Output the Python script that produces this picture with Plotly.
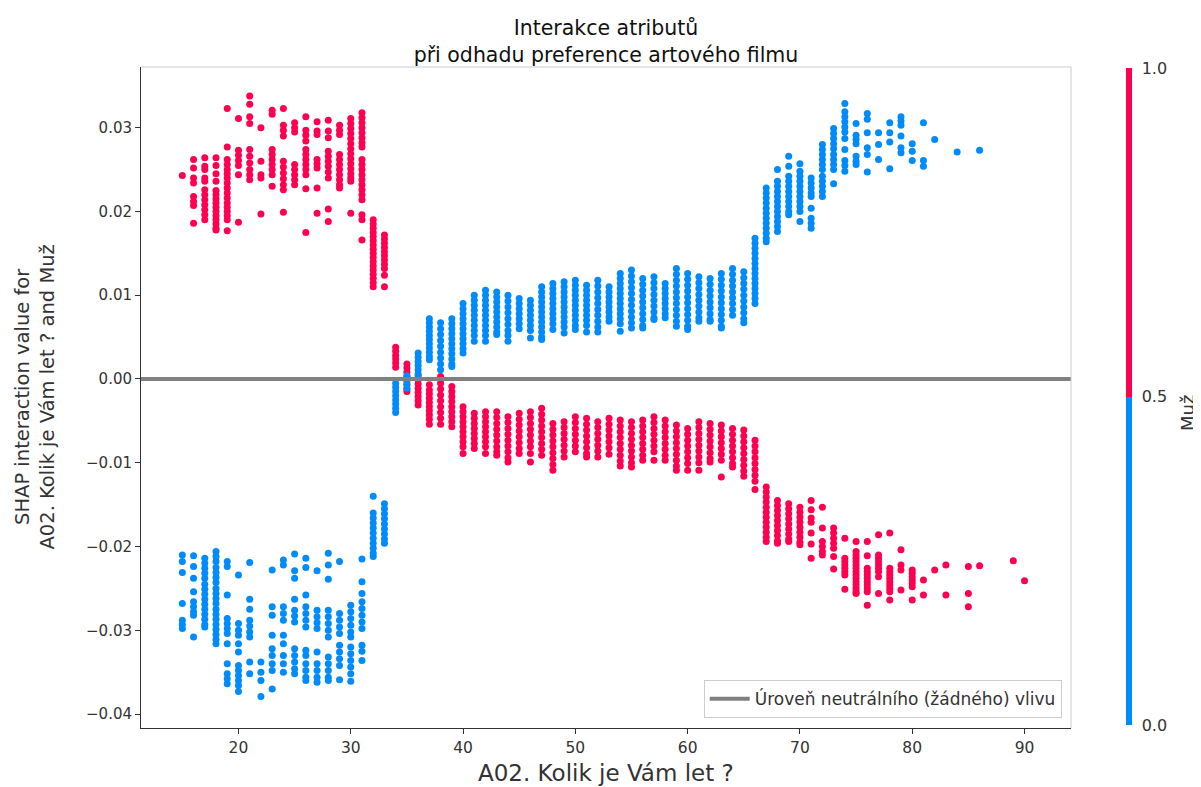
import plotly.graph_objects as go

# ---------------- data ----------------
# SHAP interaction values per age, women (Muž = 0) and men (Muž = 1)
female_young = {
    15: [-0.0210, -0.0218, -0.0231, -0.0268, -0.0288, -0.0293, -0.0298],
    16: [-0.0211, -0.0224, -0.0238, -0.0254, -0.0266, -0.0272, -0.0278, -0.0282, -0.0308],
    17: [-0.0214, -0.0220, -0.0226, -0.0232, -0.0238, -0.0245, -0.0251, -0.0257, -0.0263, -0.0269, -0.0275, -0.0281, -0.0287, -0.0293, -0.0296],
    18: [-0.0206, -0.0212, -0.0218, -0.0225, -0.0231, -0.0237, -0.0243, -0.0250, -0.0256, -0.0262, -0.0268, -0.0275, -0.0281, -0.0287, -0.0293, -0.0299, -0.0305, -0.0311, -0.0316],
    19: [-0.0218, -0.0224, -0.0258, -0.0286, -0.0292, -0.0298, -0.0304, -0.0316, -0.0340, -0.0352, -0.0358, -0.0364],
    20: [-0.0234, -0.0292, -0.0300, -0.0306, -0.0316, -0.0326, -0.0342, -0.0348, -0.0354, -0.0360, -0.0366, -0.0373],
    21: [-0.0219, -0.0263, -0.0275, -0.0288, -0.0295, -0.0302, -0.0308, -0.0338, -0.0352],
    22: [-0.0338, -0.0350, -0.0360, -0.0379],
    23: [-0.0228, -0.0272, -0.0282, -0.0306, -0.0322, -0.0330, -0.0340, -0.0348, -0.0370],
    24: [-0.0216, -0.0222, -0.0272, -0.0280, -0.0288, -0.0306, -0.0316, -0.0330, -0.0340, -0.0350],
    25: [-0.0209, -0.0229, -0.0238, -0.0263, -0.0276, -0.0283, -0.0290, -0.0322, -0.0330, -0.0338, -0.0346, -0.0352],
    26: [-0.0214, -0.0225, -0.0258, -0.0272, -0.0280, -0.0288, -0.0296, -0.0324, -0.0330, -0.0340, -0.0348, -0.0356, -0.0360],
    27: [-0.0229, -0.0276, -0.0284, -0.0291, -0.0298, -0.0326, -0.0340, -0.0348, -0.0356, -0.0362],
    28: [-0.0208, -0.0222, -0.0239, -0.0276, -0.0284, -0.0292, -0.0300, -0.0308, -0.0332, -0.0340, -0.0348, -0.0356, -0.0360],
    29: [-0.0218, -0.0280, -0.0288, -0.0296, -0.0304, -0.0318, -0.0326, -0.0334, -0.0342, -0.0359],
    30: [-0.0270, -0.0278, -0.0286, -0.0294, -0.0302, -0.0308, -0.0320, -0.0328, -0.0336, -0.0344, -0.0352, -0.0361],
    31: [-0.0215, -0.0242, -0.0256, -0.0266, -0.0274, -0.0282, -0.0290, -0.0298, -0.0318, -0.0325, -0.0336],
    32: [-0.0140, -0.0160, -0.0166, -0.0172, -0.0178, -0.0184, -0.0190, -0.0196, -0.0202, -0.0208, -0.0212],
    33: [-0.0149, -0.0155, -0.0161, -0.0167, -0.0173, -0.0179, -0.0185, -0.0191, -0.0196],
}
male_young = {
    15: [0.0243],
    16: [0.0262, 0.0252, 0.0240, 0.0234, 0.0218, 0.0212, 0.0207, 0.0186],
    17: [0.0264, 0.0254, 0.0250, 0.0240, 0.0236, 0.0226, 0.0220, 0.0214, 0.0208, 0.0202, 0.0196, 0.0190],
    18: [0.0264, 0.0255, 0.0245, 0.0236, 0.0225, 0.0220, 0.0215, 0.0210, 0.0205, 0.0200, 0.0195, 0.0190, 0.0185, 0.0180, 0.0178],
    19: [0.0323, 0.0277, 0.0262, 0.0256, 0.0250, 0.0245, 0.0240, 0.0234, 0.0228, 0.0222, 0.0216, 0.0210, 0.0205, 0.0200, 0.0195, 0.0190, 0.0177],
    20: [0.0311, 0.0273, 0.0267, 0.0261, 0.0255, 0.0244, 0.0187],
    21: [0.0338, 0.0328, 0.0313, 0.0305, 0.0274, 0.0266, 0.0258, 0.0250, 0.0244, 0.0238],
    22: [0.0300, 0.0260, 0.0244, 0.0240, 0.0197],
    23: [0.0321, 0.0316, 0.0274, 0.0268, 0.0262, 0.0256, 0.0250, 0.0244, 0.0230],
    24: [0.0323, 0.0303, 0.0297, 0.0290, 0.0260, 0.0253, 0.0246, 0.0239, 0.0232, 0.0226, 0.0199],
    25: [0.0306, 0.0300, 0.0295, 0.0256, 0.0250, 0.0244, 0.0238, 0.0232],
    26: [0.0313, 0.0297, 0.0291, 0.0284, 0.0274, 0.0268, 0.0262, 0.0256, 0.0250, 0.0244, 0.0227, 0.0175],
    27: [0.0307, 0.0296, 0.0292, 0.0262, 0.0257, 0.0252, 0.0228, 0.0198],
    28: [0.0309, 0.0296, 0.0288, 0.0272, 0.0266, 0.0260, 0.0254, 0.0247, 0.0240, 0.0203, 0.0188],
    29: [0.0303, 0.0297, 0.0292, 0.0268, 0.0262, 0.0256, 0.0250, 0.0244, 0.0238, 0.0232, 0.0228],
    30: [0.0311, 0.0305, 0.0299, 0.0293, 0.0287, 0.0281, 0.0275, 0.0269, 0.0263, 0.0257, 0.0251, 0.0245, 0.0240, 0.0236, 0.0198],
    31: [0.0318, 0.0312, 0.0306, 0.0300, 0.0294, 0.0288, 0.0282, 0.0277, 0.0262, 0.0256, 0.0250, 0.0244, 0.0238, 0.0232, 0.0226, 0.0220, 0.0214, 0.0196, 0.0190, 0.0166],
    32: [0.0190, 0.0185, 0.0180, 0.0175, 0.0170, 0.0165, 0.0160, 0.0155, 0.0150, 0.0145, 0.0140, 0.0135, 0.0130, 0.0125, 0.0120, 0.0115, 0.0110],
    33: [0.0172, 0.0167, 0.0162, 0.0157, 0.0152, 0.0147, 0.0142, 0.0137, 0.0132, 0.0124, 0.0110],
}
female_mid = {
    34: [-0.0005, -0.0010, -0.0015, -0.0020, -0.0025, -0.0030, -0.0035, -0.0040],
    35: [0.0004, -0.0001, -0.0006, -0.0011],
    36: [0.0031, 0.0026, 0.0021, 0.0016, 0.0011, 0.0006, 0.0001],
    37: [0.0072, 0.0067, 0.0062, 0.0057, 0.0052, 0.0047, 0.0042, 0.0037, 0.0032, 0.0027, 0.0023],
    38: [0.0067, 0.0060, 0.0053, 0.0046, 0.0039, 0.0032, 0.0025, 0.0018, 0.0011],
    39: [0.0072, 0.0066, 0.0060, 0.0054, 0.0048, 0.0042, 0.0036, 0.0030, 0.0024, 0.0018, 0.0015],
    40: [0.0090, 0.0084, 0.0078, 0.0072, 0.0066, 0.0060, 0.0054, 0.0048, 0.0042, 0.0036, 0.0031],
    41: [0.0100, 0.0094, 0.0088, 0.0082, 0.0076, 0.0070, 0.0064, 0.0058, 0.0052, 0.0045],
    42: [0.0106, 0.0100, 0.0094, 0.0088, 0.0082, 0.0076, 0.0070, 0.0064, 0.0058, 0.0052, 0.0045],
    43: [0.0104, 0.0098, 0.0092, 0.0086, 0.0080, 0.0074, 0.0068, 0.0062, 0.0056, 0.0053],
    44: [0.0100, 0.0093, 0.0086, 0.0079, 0.0072, 0.0065, 0.0058, 0.0052, 0.0045],
    45: [0.0096, 0.0090, 0.0084, 0.0078, 0.0072, 0.0066, 0.0060],
    46: [0.0094, 0.0088, 0.0082, 0.0076, 0.0070, 0.0064, 0.0058, 0.0049],
    47: [0.0110, 0.0104, 0.0098, 0.0092, 0.0086, 0.0080, 0.0074, 0.0068, 0.0062, 0.0056, 0.0050, 0.0047],
    48: [0.0114, 0.0108, 0.0102, 0.0096, 0.0090, 0.0084, 0.0078, 0.0072, 0.0066, 0.0059],
    49: [0.0116, 0.0110, 0.0104, 0.0098, 0.0092, 0.0086, 0.0080, 0.0074, 0.0068, 0.0062, 0.0055],
    50: [0.0118, 0.0112, 0.0106, 0.0100, 0.0094, 0.0088, 0.0082, 0.0076, 0.0070, 0.0064, 0.0059],
    51: [0.0112, 0.0106, 0.0100, 0.0094, 0.0088, 0.0082, 0.0076, 0.0070, 0.0064, 0.0056],
    52: [0.0118, 0.0111, 0.0104, 0.0097, 0.0090, 0.0083, 0.0076, 0.0069, 0.0062, 0.0056],
    53: [0.0110, 0.0104, 0.0098, 0.0092, 0.0086, 0.0080, 0.0074, 0.0069],
    54: [0.0126, 0.0120, 0.0114, 0.0108, 0.0102, 0.0096, 0.0090, 0.0084, 0.0078, 0.0072, 0.0066, 0.0057],
    55: [0.0130, 0.0123, 0.0116, 0.0109, 0.0102, 0.0095, 0.0088, 0.0081, 0.0074, 0.0067, 0.0061],
    56: [0.0120, 0.0113, 0.0106, 0.0099, 0.0092, 0.0085, 0.0078, 0.0071, 0.0064, 0.0061],
    57: [0.0122, 0.0115, 0.0108, 0.0101, 0.0094, 0.0087, 0.0080, 0.0073, 0.0071],
    58: [0.0114, 0.0108, 0.0102, 0.0096, 0.0090, 0.0084, 0.0078, 0.0073],
    59: [0.0132, 0.0125, 0.0118, 0.0111, 0.0104, 0.0097, 0.0090, 0.0083, 0.0076, 0.0069, 0.0063],
    60: [0.0126, 0.0119, 0.0112, 0.0105, 0.0098, 0.0091, 0.0084, 0.0077, 0.0070, 0.0063, 0.0059],
    61: [0.0122, 0.0115, 0.0108, 0.0101, 0.0094, 0.0087, 0.0080, 0.0073, 0.0069],
    62: [0.0120, 0.0113, 0.0106, 0.0099, 0.0092, 0.0085, 0.0078, 0.0071, 0.0069],
    63: [0.0126, 0.0119, 0.0112, 0.0105, 0.0098, 0.0091, 0.0084, 0.0077, 0.0070, 0.0063, 0.0061],
    64: [0.0132, 0.0125, 0.0118, 0.0111, 0.0104, 0.0097, 0.0090, 0.0083, 0.0076],
    65: [0.0128, 0.0121, 0.0114, 0.0107, 0.0100, 0.0093, 0.0086, 0.0079, 0.0072, 0.0067],
    66: [0.0168, 0.0162, 0.0156, 0.0150, 0.0144, 0.0138, 0.0132, 0.0126, 0.0120, 0.0114, 0.0108, 0.0102, 0.0096, 0.0090],
}
male_mid = {
    34: [0.0038, 0.0033, 0.0028, 0.0024, 0.0019, 0.0014],
    35: [0.0018, 0.0013, 0.0008, 0.0003, -0.0002, -0.0007, -0.0012, -0.0015],
    36: [0.0004, -0.0001, -0.0006, -0.0011, -0.0016, -0.0021, -0.0026, -0.0031],
    37: [-0.0007, -0.0013, -0.0018, -0.0023, -0.0028, -0.0033, -0.0038, -0.0043, -0.0048, -0.0054],
    38: [0.0003, -0.0005, -0.0012, -0.0019, -0.0026, -0.0033, -0.0040, -0.0047, -0.0054],
    39: [-0.0009, -0.0015, -0.0021, -0.0027, -0.0033, -0.0039, -0.0045, -0.0051, -0.0057],
    40: [-0.0033, -0.0039, -0.0045, -0.0051, -0.0057, -0.0063, -0.0069, -0.0075, -0.0081, -0.0089],
    41: [-0.0041, -0.0047, -0.0053, -0.0059, -0.0065, -0.0071, -0.0077, -0.0083],
    42: [-0.0039, -0.0045, -0.0051, -0.0057, -0.0063, -0.0069, -0.0075, -0.0081, -0.0089],
    43: [-0.0039, -0.0046, -0.0053, -0.0060, -0.0067, -0.0074, -0.0081, -0.0087, -0.0091],
    44: [-0.0045, -0.0052, -0.0059, -0.0066, -0.0073, -0.0080, -0.0087, -0.0094, -0.0099],
    45: [-0.0041, -0.0048, -0.0055, -0.0062, -0.0069, -0.0076, -0.0083, -0.0089],
    46: [-0.0039, -0.0046, -0.0053, -0.0060, -0.0067, -0.0074, -0.0081, -0.0089, -0.0099],
    47: [-0.0035, -0.0042, -0.0049, -0.0056, -0.0063, -0.0070, -0.0077, -0.0084, -0.0091],
    48: [-0.0053, -0.0060, -0.0067, -0.0074, -0.0081, -0.0088, -0.0095, -0.0102, -0.0109],
    49: [-0.0051, -0.0058, -0.0065, -0.0072, -0.0079, -0.0086, -0.0093],
    50: [-0.0045, -0.0052, -0.0059, -0.0066, -0.0073, -0.0080, -0.0087],
    51: [-0.0047, -0.0054, -0.0061, -0.0068, -0.0075, -0.0082, -0.0089, -0.0093],
    52: [-0.0051, -0.0058, -0.0065, -0.0072, -0.0079, -0.0086, -0.0093],
    53: [-0.0047, -0.0054, -0.0061, -0.0068, -0.0075, -0.0082, -0.0090],
    54: [-0.0049, -0.0056, -0.0063, -0.0070, -0.0077, -0.0084, -0.0091, -0.0098, -0.0104],
    55: [-0.0051, -0.0058, -0.0065, -0.0072, -0.0079, -0.0086, -0.0093, -0.0100, -0.0105],
    56: [-0.0049, -0.0056, -0.0063, -0.0070, -0.0077, -0.0084, -0.0091, -0.0097],
    57: [-0.0045, -0.0052, -0.0059, -0.0066, -0.0073, -0.0080, -0.0087, -0.0097],
    58: [-0.0049, -0.0056, -0.0063, -0.0070, -0.0077, -0.0084, -0.0091, -0.0097],
    59: [-0.0055, -0.0062, -0.0069, -0.0076, -0.0083, -0.0090, -0.0097, -0.0104, -0.0109],
    60: [-0.0059, -0.0066, -0.0073, -0.0080, -0.0087, -0.0094, -0.0101, -0.0109],
    61: [-0.0051, -0.0058, -0.0065, -0.0072, -0.0079, -0.0086, -0.0093, -0.0100, -0.0109],
    62: [-0.0053, -0.0060, -0.0067, -0.0074, -0.0081, -0.0088, -0.0095, -0.0099],
    63: [-0.0055, -0.0062, -0.0069, -0.0076, -0.0083, -0.0090, -0.0097, -0.0117],
    64: [-0.0059, -0.0066, -0.0073, -0.0080, -0.0087, -0.0094, -0.0101, -0.0105],
    65: [-0.0061, -0.0068, -0.0075, -0.0082, -0.0089, -0.0096, -0.0103, -0.0110, -0.0116],
    66: [-0.0073, -0.0080, -0.0087, -0.0094, -0.0101, -0.0108, -0.0115, -0.0122, -0.0132],
}
female_old = {
    67: [0.0228, 0.0222, 0.0216, 0.0210, 0.0204, 0.0198, 0.0192, 0.0186, 0.0180, 0.0174, 0.0168, 0.0164],
    68: [0.0250, 0.0236, 0.0230, 0.0224, 0.0218, 0.0212, 0.0206, 0.0200, 0.0194, 0.0188, 0.0182, 0.0176],
    69: [0.0266, 0.0254, 0.0242, 0.0236, 0.0230, 0.0224, 0.0218, 0.0212, 0.0206, 0.0200, 0.0196],
    70: [0.0257, 0.0248, 0.0242, 0.0236, 0.0230, 0.0224, 0.0218, 0.0212, 0.0206, 0.0200, 0.0188],
    71: [0.0240, 0.0234, 0.0228, 0.0222, 0.0218, 0.0204, 0.0192, 0.0186, 0.0180],
    72: [0.0280, 0.0274, 0.0268, 0.0262, 0.0256, 0.0250, 0.0242, 0.0236, 0.0230, 0.0224, 0.0218],
    73: [0.0299, 0.0293, 0.0287, 0.0281, 0.0275, 0.0268, 0.0262, 0.0256, 0.0250, 0.0233],
    74: [0.0329, 0.0319, 0.0313, 0.0307, 0.0301, 0.0295, 0.0287, 0.0274, 0.0261, 0.0255, 0.0248],
    75: [0.0305, 0.0291, 0.0286, 0.0281, 0.0266, 0.0260, 0.0256],
    76: [0.0317, 0.0310, 0.0294, 0.0276, 0.0268, 0.0247],
    77: [0.0294, 0.0280, 0.0262],
    78: [0.0306, 0.0294, 0.0283, 0.0251],
    79: [0.0313, 0.0308, 0.0303, 0.0290, 0.0276, 0.0270],
    80: [0.0281, 0.0272, 0.0261],
    81: [0.0306, 0.0261, 0.0254],
    82: [0.0286],
    84: [0.0271],
    86: [0.0273],
}
male_old = {
    67: [-0.0129, -0.0135, -0.0141, -0.0147, -0.0153, -0.0159, -0.0165, -0.0171, -0.0177, -0.0183, -0.0189, -0.0194],
    68: [-0.0145, -0.0151, -0.0157, -0.0163, -0.0169, -0.0175, -0.0181, -0.0187, -0.0193, -0.0196],
    69: [-0.0149, -0.0155, -0.0161, -0.0167, -0.0173, -0.0179, -0.0185, -0.0191, -0.0194],
    70: [-0.0153, -0.0159, -0.0165, -0.0171, -0.0177, -0.0183, -0.0189, -0.0195, -0.0198],
    71: [-0.0145, -0.0156, -0.0166, -0.0171, -0.0184, -0.0197, -0.0214],
    72: [-0.0153, -0.0178, -0.0194, -0.0200, -0.0206, -0.0210],
    73: [-0.0178, -0.0184, -0.0190, -0.0196, -0.0202, -0.0212, -0.0227],
    74: [-0.0190, -0.0214, -0.0218, -0.0222, -0.0226, -0.0230, -0.0234, -0.0251],
    75: [-0.0194, -0.0206, -0.0210, -0.0214, -0.0218, -0.0222, -0.0226, -0.0230, -0.0234, -0.0238, -0.0242, -0.0246, -0.0250, -0.0254, -0.0256],
    76: [-0.0194, -0.0211, -0.0226, -0.0230, -0.0234, -0.0238, -0.0242, -0.0246, -0.0250, -0.0254, -0.0270],
    77: [-0.0186, -0.0210, -0.0214, -0.0218, -0.0222, -0.0226, -0.0230, -0.0236, -0.0256],
    78: [-0.0184, -0.0226, -0.0230, -0.0234, -0.0238, -0.0242, -0.0246, -0.0250, -0.0254, -0.0264],
    79: [-0.0204, -0.0222, -0.0228, -0.0252],
    80: [-0.0228, -0.0232, -0.0236, -0.0240, -0.0244, -0.0248, -0.0264],
    81: [-0.0240, -0.0258],
    82: [-0.0228],
    83: [-0.0222, -0.0258],
    85: [-0.0224, -0.0256, -0.0272],
    86: [-0.0223],
    89: [-0.0217],
    90: [-0.0241],
}
x_ticks = [20, 30, 40, 50, 60, 70, 80, 90]
y_ticks = [-0.04, -0.03, -0.02, -0.01, 0.00, 0.01, 0.02, 0.03]
colorbar_ticks = [0.0, 0.5, 1.0]
neutral_level = 0.0

title_text = "Interakce atributů<br>při odhadu preference artového filmu"
x_label = "A02. Kolik je Vám let ?"
y_label = "SHAP interaction value for<br>A02. Kolik je Vám let ? and Muž"
color_label = "Muž"
legend_label = "Úroveň neutrálního (žádného) vlivu"

# ---------------- build ----------------
def flatten(*groups):
    xs, ys = [], []
    for g in groups:
        for age, vals in g.items():
            for v in vals:
                xs.append(age)
                ys.append(v)
    return xs, ys

fx, fy = flatten(female_young, female_mid, female_old)
mx, my = flatten(male_young, male_mid, male_old)

RED = "#ff0051"
BLUE = "#008bfb"
cscale = [[0, BLUE], [0.5, BLUE], [0.5, RED], [1, RED]]
FONT = "DejaVu Sans"
TXT = "#333333"

# the page adds an 8 px body margin, so the figure is 8 px smaller than the window
W, H = 1193, 779
ML, MR, MT, MB = 133, 130, 59, 59

fig = go.Figure()
fig.add_trace(go.Scatter(
    x=mx, y=my, mode="markers", showlegend=False, hoverinfo="skip",
    marker=dict(size=7, color=[1] * len(mx), colorscale=cscale, cmin=0, cmax=1,
                line=dict(width=0), showscale=True,
                colorbar=dict(
                    thickness=6, thicknessmode="pixels", len=657, lenmode="pixels",
                    x=1.059, xanchor="left", y=0.5015, yanchor="middle",
                    xpad=0, ypad=0, outlinewidth=0,
                    tickvals=colorbar_ticks, ticktext=[f"{v:.1f}" for v in colorbar_ticks],
                    ticks="outside", ticklen=7, tickcolor="rgba(0,0,0,0)",
                    tickfont=dict(family=FONT, size=16, color=TXT),
                )),
))
fig.add_trace(go.Scatter(
    x=fx, y=fy, mode="markers", showlegend=False, hoverinfo="skip",
    marker=dict(size=7, color=[0] * len(fx), colorscale=cscale, cmin=0, cmax=1,
                line=dict(width=0), showscale=False),
))
# legend entry for the neutral line
fig.add_trace(go.Scatter(
    x=[None], y=[None], mode="lines", name=legend_label,
    line=dict(color="#808080", width=4), showlegend=True,
))

fig.add_shape(type="line", xref="paper", x0=0, x1=1, yref="y",
              y0=neutral_level, y1=neutral_level,
              line=dict(color="#808080", width=4), layer="above")
# light top/right frame
fig.add_shape(type="line", xref="paper", yref="paper", x0=0, x1=1, y0=1, y1=1,
              line=dict(color="#cccccc", width=1))
fig.add_shape(type="line", xref="paper", yref="paper", x0=1, x1=1, y0=0, y1=1,
              line=dict(color="#cccccc", width=1))

fig.update_layout(
    width=W, height=H,
    margin=dict(l=ML, r=MR, t=MT, b=MB),
    paper_bgcolor="white", plot_bgcolor="white",
    font=dict(family=FONT, size=16, color=TXT),
    title=dict(text=title_text, x=0.5, xref="paper", xanchor="center",
               y=1 - 27 / H, yref="container", yanchor="middle",
               font=dict(family=FONT, size=20.5, color="#111111")),
    showlegend=True,
    legend=dict(x=0.990, xanchor="right", y=0.015, yanchor="bottom",
                bgcolor="white", bordercolor="#cccccc", borderwidth=1,
                itemwidth=40,
                font=dict(family=FONT, size=17, color=TXT)),
    xaxis=dict(range=[11.32, 94.14], tickvals=x_ticks, showgrid=False, zeroline=False,
               showline=True, linecolor="#333333", linewidth=1,
               ticks="outside", ticklen=5, tickcolor="#333333",
               tickfont=dict(family=FONT, size=15.5, color=TXT)),
    yaxis=dict(range=[-0.04167, 0.03725], tickvals=y_ticks, tickformat=".2f",
               showgrid=False, zeroline=False,
               showline=True, linecolor="#333333", linewidth=1,
               ticks="outside", ticklen=5, tickcolor="#333333",
               tickfont=dict(family=FONT, size=15, color=TXT)),
    annotations=[
        dict(text=x_label, xref="paper", yref="paper", x=0.5, y=0,
             xanchor="center", yanchor="middle", yshift=-45, showarrow=False,
             font=dict(family=FONT, size=23, color=TXT)),
        dict(text=y_label, xref="paper", yref="paper", x=0, y=0.5,
             xanchor="center", yanchor="middle", xshift=-107, textangle=-90,
             showarrow=False, font=dict(family=FONT, size=19.5, color=TXT)),
        dict(text=color_label, xref="paper", yref="paper", x=(1179 - ML) / (W - ML - MR),
             y=(720 - 405) / (H - MT - MB), xanchor="center", yanchor="middle",
             textangle=-90, showarrow=False,
             font=dict(family=FONT, size=18, color=TXT)),
    ],
)

fig.write_html("out.html")
